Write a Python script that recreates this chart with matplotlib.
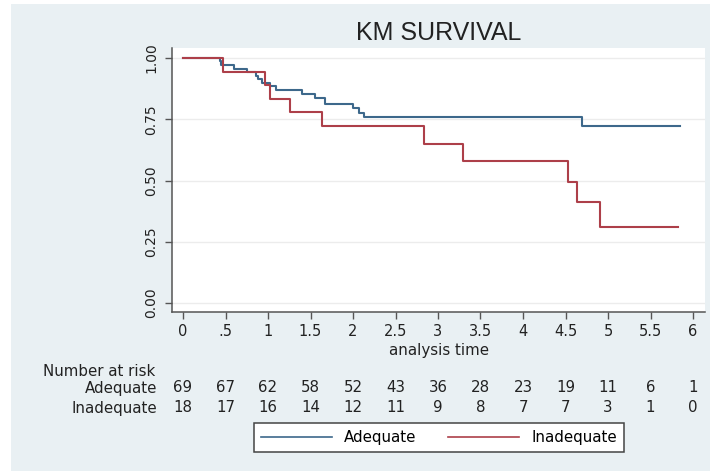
import matplotlib.pyplot as plt
import matplotlib.patches as mpatches
from matplotlib.transforms import blended_transform_factory

# Kaplan-Meier step data (time where the step happens, survival after it)
adequate_time = [0, 0.43, 0.45, 0.60, 0.75, 0.86, 0.88, 0.93, 1.02, 1.09, 1.40, 1.55, 1.67,
                 2.00, 2.07, 2.13, 4.69, 5.85]
adequate_surv = [1.0, 0.986, 0.971, 0.957, 0.942, 0.928, 0.913, 0.899, 0.884, 0.870, 0.855,
                 0.836, 0.812, 0.795, 0.777, 0.758, 0.722, 0.722]
inadequate_time = [0, 0.475, 0.965, 1.02, 1.26, 1.64, 2.83, 3.29, 4.53, 4.63, 4.91, 5.82]
inadequate_surv = [1.0, 0.944, 0.889, 0.833, 0.778, 0.722, 0.650, 0.578, 0.495, 0.4125, 0.309, 0.309]

# number at risk table
risk_times = [0, 0.5, 1, 1.5, 2, 2.5, 3, 3.5, 4, 4.5, 5, 5.5, 6]
adequate_risk = [69, 67, 62, 58, 52, 43, 36, 28, 23, 19, 11, 6, 1]
inadequate_risk = [18, 17, 16, 14, 12, 11, 9, 8, 7, 7, 3, 1, 0]

x_ticks = [0, 0.5, 1, 1.5, 2, 2.5, 3, 3.5, 4, 4.5, 5, 5.5, 6]
x_labels = ["0", ".5", "1", "1.5", "2", "2.5", "3", "3.5", "4", "4.5", "5", "5.5", "6"]
y_ticks = [0, 0.25, 0.5, 0.75, 1.0]
y_labels = ["0.00", "0.25", "0.50", "0.75", "1.00"]

BLUE = "#3d688b"
RED = "#ad3f49"
BG = "#e9f0f3"
W, H = 711, 471

if __name__ == "__main__":
    fig = plt.figure(figsize=(W / 100, H / 100), dpi=100, facecolor="white")
    plt.rcParams["font.family"] = ["DejaVu Sans"]

    # light blue-grey graph region (white strip on the left and top)
    fig.patches.append(mpatches.Rectangle((11 / W, 0), 699 / W, 1 - 4 / H,
                                          transform=fig.transFigure, facecolor=BG,
                                          edgecolor="none", zorder=-10))

    ax = fig.add_axes([172 / W, 1 - 312 / H, 533 / W, 264 / H])
    ax.set_facecolor("white")

    ax.step(adequate_time, adequate_surv, where="post", color=BLUE, lw=1.5, label="Adequate")
    ax.step(inadequate_time, inadequate_surv, where="post", color=RED, lw=1.5, label="Inadequate")

    ax.set_xlim(-11 / 85, 6 + 12 / 85)
    ax.set_ylim(-9 / 245, 1 + 10 / 245)
    ax.set_xticks(x_ticks)
    ax.set_xticklabels(x_labels, fontsize=10.5, color="#222222")
    ax.set_yticks(y_ticks)
    ax.set_yticklabels(y_labels, fontsize=10, rotation=90, va="center", color="#222222")
    ax.tick_params(direction="out", length=5, width=1, color="#555555", pad=4)
    ax.tick_params(axis="y", pad=5)
    ax.grid(axis="y", color="#ececec", lw=1)
    ax.set_axisbelow(True)
    for side in ["top", "right"]:
        ax.spines[side].set_visible(False)
    for side in ["left", "bottom"]:
        ax.spines[side].set_color("#555555")
        ax.spines[side].set_linewidth(1.1)

    fig.text(438.5 / W, 1 - 33 / H, "KM SURVIVAL", fontsize=18, family="Liberation Sans",
             ha="center", va="center", color="#222222")
    fig.text(438.5 / W, 1 - 351 / H, "analysis time", fontsize=10.8, ha="center",
             va="center", color="#222222")

    # number at risk table
    tr = blended_transform_factory(ax.transData, fig.transFigure)
    fig.text(43 / W, 1 - 371 / H, "Number at risk", fontsize=10.8, ha="left", va="center",
             color="#222222")
    fig.text(157 / W, 1 - 388 / H, "Adequate", fontsize=10.8, ha="right", va="center",
             color="#222222")
    fig.text(157 / W, 1 - 408 / H, "Inadequate", fontsize=10.8, ha="right", va="center",
             color="#222222")
    for t, a, b in zip(risk_times, adequate_risk, inadequate_risk):
        ax.text(t, 1 - 388 / H, str(a), transform=tr, fontsize=10.8, ha="center",
                va="center", color="#222222", clip_on=False)
        ax.text(t, 1 - 408 / H, str(b), transform=tr, fontsize=10.8, ha="center",
                va="center", color="#222222", clip_on=False)

    handles, labels = ax.get_legend_handles_labels()
    leg = fig.legend(handles, labels, loc="center", bbox_to_anchor=(439 / W, 1 - 437.5 / H),
                     ncol=2, fontsize=10.8, frameon=True, fancybox=False, framealpha=1,
                     handlelength=4.7, handletextpad=0.85, columnspacing=2.1, borderpad=0.45)
    leg.get_frame().set_edgecolor("#444444")
    leg.get_frame().set_linewidth(1.1)
    for line in leg.get_lines():
        line.set_linewidth(1.2)

    fig.savefig("out.png", dpi=100, facecolor=fig.get_facecolor())
